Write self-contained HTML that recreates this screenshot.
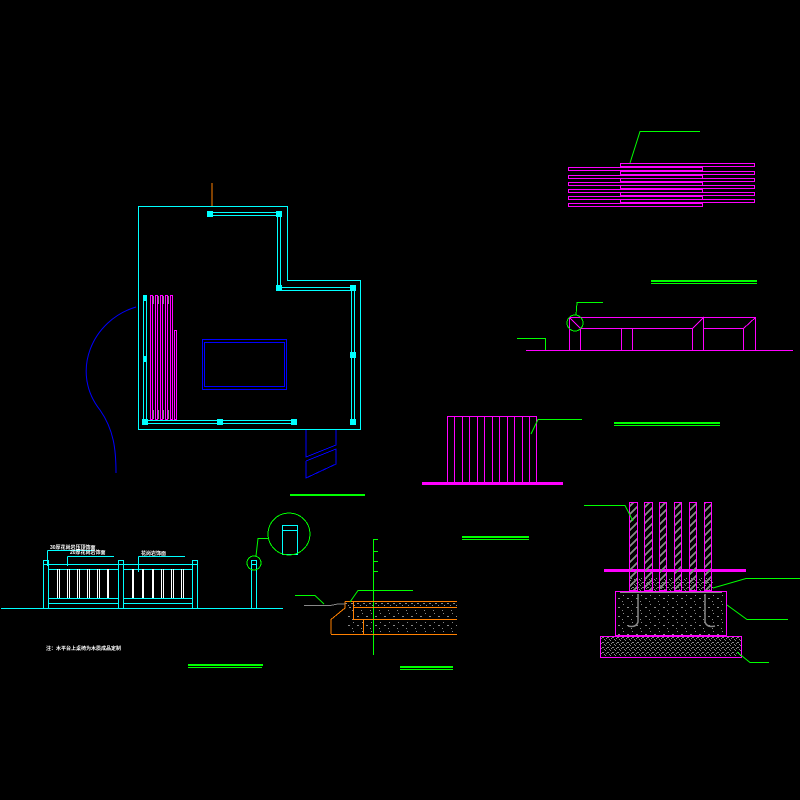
<!DOCTYPE html>
<html><head><meta charset="utf-8"><style>
html,body{margin:0;padding:0;background:#000;width:800px;height:800px;overflow:hidden}
svg{display:block}
</style></head><body>
<svg width="800" height="800" viewBox="0 0 800 800" xmlns="http://www.w3.org/2000/svg" shape-rendering="crispEdges">
<defs>
<pattern id="hatch" width="6" height="6" patternUnits="userSpaceOnUse">
<rect x="1" y="1" width="2" height="1" fill="#888"/><rect x="3" y="3" width="2" height="1" fill="#888"/><rect x="0" y="5" width="1" height="1" fill="#888"/>
</pattern>
<pattern id="conc" width="9" height="9" patternUnits="userSpaceOnUse">
<rect x="2" y="1" width="1" height="1" fill="#888"/><rect x="6" y="4" width="2" height="1" fill="#888"/><rect x="1" y="7" width="1" height="1" fill="#888"/>
</pattern>
<pattern id="dense" width="5" height="5" patternUnits="userSpaceOnUse">
<rect x="0" y="0" width="1" height="1" fill="#888"/><rect x="2" y="2" width="2" height="1" fill="#888"/><rect x="4" y="4" width="1" height="1" fill="#888"/><rect x="1" y="3" width="1" height="1" fill="#888"/>
</pattern>
<pattern id="diag" width="8" height="8" patternUnits="userSpaceOnUse">
<path d="M0 8 L8 0 M-2 2 L2 -2 M6 10 L10 6" stroke="#888" stroke-width="2"/>
</pattern>
</defs>
<rect width="800" height="800" fill="#000"/>

<!-- PLAN -->
<line x1="212" y1="183" x2="212" y2="206" stroke="#ff8000"/>
<polygon points="138.5,206.5 287.5,206.5 287.5,280.5 360.5,280.5 360.5,429.5 138.5,429.5" fill="none" stroke="#0ff"/>
<g fill="none" stroke="#0ff">
<path d="M210 212.5H279M210 215.5H279"/>
<path d="M277.5 213V288M280.5 213V288"/>
<path d="M279 287.5H353M279 290.5H353"/>
<path d="M351.5 288V422M354.5 288V422"/>
<path d="M145 420.5H294M145 423.5H294"/>
<path d="M143.5 297V422M146.5 297V422"/>
</g>
<g fill="#0ff">
<rect x="207" y="211" width="6" height="6"/><rect x="276" y="211" width="6" height="6"/>
<rect x="276" y="285" width="6" height="6"/><rect x="350" y="285" width="6" height="6"/>
<rect x="350" y="352" width="6" height="6"/><rect x="350" y="419" width="6" height="6"/>
<rect x="142" y="419" width="6" height="6"/><rect x="217" y="419" width="6" height="6"/>
<rect x="291" y="419" width="6" height="6"/><rect x="143" y="295" width="4" height="6"/><rect x="143" y="356" width="4" height="6"/>
</g>
<g fill="none" stroke="#f0f">
<rect x="150.5" y="295.5" width="2" height="124"/><rect x="155.5" y="295.5" width="2" height="124"/>
<rect x="160.5" y="295.5" width="2" height="124"/><rect x="165.5" y="295.5" width="2" height="124"/>
<rect x="170.5" y="295.5" width="2" height="124"/><rect x="174.5" y="330.5" width="2" height="89"/>
</g>
<g fill="#888"><rect x="153" y="296" width="1" height="8"/><rect x="158" y="296" width="1" height="8"/><rect x="163" y="296" width="1" height="8"/><rect x="168" y="296" width="1" height="8"/><rect x="153" y="410" width="1" height="9"/><rect x="158" y="410" width="1" height="9"/><rect x="163" y="410" width="1" height="9"/><rect x="168" y="410" width="1" height="9"/></g>
<rect x="202.5" y="339.5" width="84" height="50" fill="none" stroke="#00f" stroke-width="1"/>
<rect x="204.5" y="342.5" width="80" height="44" fill="none" stroke="#00f" stroke-width="1"/>
<path d="M306 430V457L336 445V430M306 461V478L336 464V449L306 461" fill="none" stroke="#00f"/>
<path d="M136 307C92 320 70 372 100 410C114 430 116 450 116 473" fill="none" stroke="#00f" shape-rendering="auto"/>
<rect x="290" y="494" width="75" height="2" fill="#0f0"/>

<!-- TOP RIGHT SLATS -->
<g fill="none" stroke="#f0f">
<rect x="620.5" y="163.5" width="134" height="3"/><rect x="568.5" y="167.5" width="134" height="3"/>
<rect x="620.5" y="171.5" width="134" height="3"/><rect x="568.5" y="175.5" width="134" height="3"/>
<rect x="620.5" y="178.5" width="134" height="3"/><rect x="568.5" y="182.5" width="134" height="3"/>
<rect x="620.5" y="185.5" width="134" height="3"/><rect x="568.5" y="189.5" width="134" height="3"/>
<rect x="620.5" y="192.5" width="134" height="3"/><rect x="568.5" y="196.5" width="134" height="3"/>
<rect x="620.5" y="199.5" width="134" height="3"/><rect x="568.5" y="203.5" width="134" height="3"/>
</g>
<path d="M630 163L640 131.5H700" fill="none" stroke="#0f0" shape-rendering="auto"/>
<rect x="651" y="280" width="106" height="2" fill="#0f0"/><rect x="651" y="283" width="106" height="1" fill="#0f0"/>

<!-- BENCH ELEVATION -->
<g fill="none" stroke="#f0f">
<path d="M526 350.5H793"/>
<path d="M569.5 350V317.5H755.5V350M580.5 350V328.5H692.5V350M621.5 328V350M632.5 328V350M703.5 350V328.5H743.5V350M569.5 317.5L580.5 328.5M692.5 328.5L703.5 317.5V328M743.5 328.5L755.5 317.5"/>
</g>
<circle cx="575" cy="323" r="8" fill="none" stroke="#0f0"/>
<path d="M576 315L577 302.5H603M517 338.5H545.5V350" fill="none" stroke="#0f0"/>

<!-- MIDDLE ELEVATION -->
<g fill="none" stroke="#f0f">
<rect x="447.5" y="416.5" width="89" height="66"/>
<path d="M454.5 417V482M462.5 417V482M469.5 417V482M477.5 417V482M484.5 417V482M492.5 417V482M499.5 417V482M507.5 417V482M514.5 417V482M522.5 417V482M529.5 417V482"/>
</g>
<rect x="422" y="482" width="141" height="3" fill="#f0f"/>
<path d="M531 434L538 419.5H582" fill="none" stroke="#0f0" shape-rendering="auto"/>
<rect x="614" y="422" width="106" height="2" fill="#0f0"/><rect x="614" y="425" width="106" height="1" fill="#0f0"/>
<rect x="462" y="536" width="67" height="2" fill="#0f0"/><rect x="462" y="539" width="67" height="1" fill="#0f0"/>

<!-- FOUNDATION -->
<rect x="604" y="569" width="142" height="3" fill="#f0f"/>
<rect x="629" y="578" width="84" height="13" fill="url(#dense)"/>
<g stroke="#f0f" fill="url(#diag)">
<rect x="629.5" y="502.5" width="8" height="88"/><rect x="644.5" y="502.5" width="8" height="88"/>
<rect x="659.5" y="502.5" width="7" height="88"/><rect x="674.5" y="502.5" width="7" height="88"/>
<rect x="689.5" y="502.5" width="7" height="88"/><rect x="704.5" y="502.5" width="7" height="88"/>
</g>
<line x1="620" y1="592" x2="721" y2="592" stroke="#888" stroke-width="2"/>
<rect x="615.5" y="591.5" width="111" height="44" fill="url(#conc)" stroke="#f0f"/>
<path d="M638 594V622Q636 628 628 626M705 594V622Q707 628 715 626" fill="none" stroke="#888" stroke-width="1.5" shape-rendering="auto"/>
<rect x="600.5" y="636.5" width="141" height="21" fill="url(#dense)" stroke="#f0f"/>
<g fill="none" stroke="#0f0" shape-rendering="auto">
<path d="M584 505.5H625L633 521"/>
<path d="M713 588L746 578.5H800"/>
<path d="M727 605L747 619.5H788"/>
<path d="M737 652L750 662.5H769"/>
</g>

<!-- LEFT FENCE ELEVATION -->
<line x1="1" y1="608.5" x2="283" y2="608.5" stroke="#0ff"/>
<g fill="none" stroke="#0ff">
<rect x="43.5" y="560.5" width="5" height="48"/><rect x="118.5" y="560.5" width="5" height="48"/><rect x="192.5" y="560.5" width="5" height="48"/>
<path d="M44 564.5H197M48 569.5H118M123 569.5H192M48 598.5H118M123 598.5H192M48 603.5H118M123 603.5H192"/>
<path d="M47.5 550.5V566M47.5 550.5H94M67.5 556.5V566M67.5 556.5H114M138.5 556.5V572M138.5 556.5H185"/>
<rect x="251.5" y="560.5" width="5" height="48"/><path d="M251 564.5H256"/>
<rect x="282.5" y="525.5" width="15" height="29"/><path d="M282 530.5H297"/>
</g>
<g stroke="#fff">
<path d="M57.5 569V598M59.5 569V598M67.5 569V598M69.5 569V598M77.5 569V598M79.5 569V598M87.5 569V598M89.5 569V598M97.5 569V598M99.5 569V598M107.5 569V598M108.5 569V598"/>
<path d="M132.5 569V598M133.5 569V598M142.5 569V598M143.5 569V598M152.5 569V598M153.5 569V598M161.5 569V598M163.5 569V598M171.5 569V598M173.5 569V598M181.5 569V598M183.5 569V598"/>
</g>
<g font-family="'Liberation Sans','Noto Sans CJK SC',sans-serif" font-size="5" fill="#fff" font-weight="bold">
<text x="50" y="549">30厚花岗岩压顶饰面</text>
<text x="70" y="554">20厚花岗岩饰面</text>
<text x="141" y="555">花岗岩饰面</text>
<text x="46" y="650">注：木平台上桌椅为木质成品定制</text>
</g>
<circle cx="254" cy="563" r="7" fill="none" stroke="#0f0"/>
<circle cx="289" cy="534" r="21" fill="none" stroke="#0f0"/>
<path d="M256 556L258 538.5H268" fill="none" stroke="#0f0" shape-rendering="auto"/>
<rect x="188" y="664" width="75" height="2" fill="#0f0"/><rect x="188" y="667" width="74" height="1" fill="#0f0"/>

<!-- PAVING SECTION -->
<path d="M373.5 539V655M373 539.5H378M373 551.5H378M373 561.5H378M373 571.5H378" fill="none" stroke="#0f0"/>
<rect x="345" y="601" width="112" height="8" fill="url(#hatch)"/>
<rect x="345" y="609" width="112" height="24" fill="url(#conc)"/>
<g fill="none" stroke="#ff8000">
<path d="M345 601.5H457M353 607.5H457M353 619.5H457M331 634.5H457M331 634V619.5L345 608V601.5M353.5 601V620M363.5 620V634"/>
</g>
<path d="M304 605.5H330L338 604H345" stroke="#888" fill="none"/>
<g fill="none" stroke="#0f0" shape-rendering="auto">
<path d="M295 595.5H315L324 604"/>
<path d="M350 602L358 590.5H413"/>
</g>
<rect x="400" y="666" width="53" height="2" fill="#0f0"/><rect x="400" y="669" width="53" height="1" fill="#0f0"/>
</svg>
</body></html>
